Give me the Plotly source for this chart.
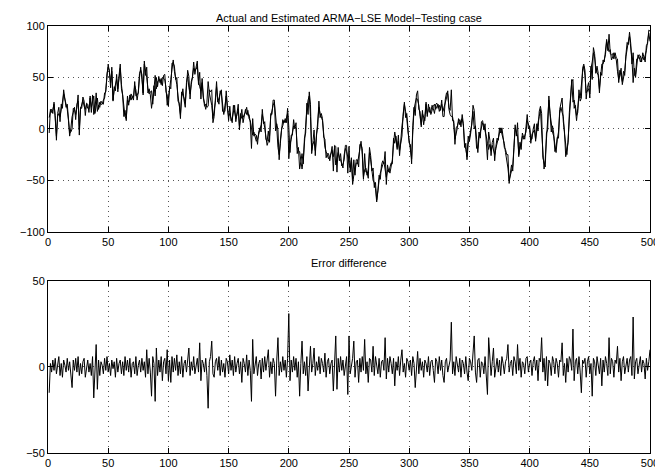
import plotly.graph_objects as go

# x index (samples 1..500)
x_index = list(range(1, 501))

# Actual series
actual = [
    11, 17, 19, 15, 26, 8, -7, 12, 15, 12,
    22, 26, 34, 28, 24, 19, 8, -7, 1, 12,
    16, 21, 9, 24, 27, -1, 19, 24, 28, 22,
    19, 24, 20, 19, 30, 21, 27, 32, 15, 22,
    30, 19, 26, 24, 24, 28, 30, 38, 48, 63,
    55, 45, 56, 28, 38, 43, 48, 39, 50, 59,
    43, 30, 17, 12, 10, 28, 26, 28, 34, 30,
    28, 46, 32, 33, 35, 50, 60, 48, 35, 63,
    58, 50, 39, 34, 36, 37, 24, 40, 52, 39,
    46, 47, 48, 43, 50, 49, 48, 40, 23, 30,
    37, 48, 58, 67, 56, 50, 43, 32, 22, 14,
    30, 39, 28, 21, 45, 52, 40, 34, 43, 52,
    59, 57, 58, 61, 46, 41, 37, 45, 30, 25,
    19, 26, 46, 35, 30, 23, 10, 18, 26, 41,
    28, 24, 37, 34, 20, 14, 23, 32, 20, 12,
    15, 10, 6, 23, 17, 10, 14, 19, 3, 12,
    19, 6, 12, 19, 14, 18, 10, 8, 1, -6,
    -3, -8, -12, -10, -5, -3, 4, 14, 8, 1,
    -8, -16, -12, -7, 12, 18, 23, 26, 15, 1,
    -18, -25, -14, 0, 3, 8, 6, 12, 15, -29,
    -15, -10, -3, 3, 2, 1, -18, -21, -22, -34,
    -39, -30, -12, 1, 19, 28, 32, 12, -21, -15,
    -12, -21, -8, 4, 21, 15, 10, 8, -5, -18,
    -22, -27, -29, -27, -24, -21, -27, -19, -35, -29,
    -23, -28, -30, -34, -38, -25, -19, -22, -27, -35,
    -38, -30, -54, -45, -39, -33, -34, -28, -20, -12,
    -25, -47, -40, -38, -45, -39, -23, -30, -38, -50,
    -52, -58, -71, -56, -50, -43, -38, -35, -32, -39,
    -47, -40, -39, -43, -35, -30, -14, -3, -10, -18,
    -12, -21, -14, -7, 15, 24, 17, 10, -3, -12,
    -19, -29, -3, 19, 25, 30, 28, 23, 12, 4,
    15, 10, 8, 24, 15, 18, 21, 14, 19, 22,
    24, 19, 22, 24, 17, 20, 24, 17, 21, 26,
    30, 37, 19, 14, 12, 12, 5, -10, -5, 1,
    10, 4, 8, 10, 3, -14, -20, -27, -7, -12,
    -5, 6, 17, 0, 3, -10, -23, -8, -3, 4,
    6, 3, -1, -7, -14, -20, -15, -21, -16, -20,
    -25, -19, -14, -8, -3, 1, -5, -10, -14, -23,
    -30, -38, -50, -45, -39, -36, -18, 1, -3, -7,
    -25, -18, -14, -7, -10, -6, -3, 8, 3, 1,
    -14, -5, -3, -1, -10, 1, 6, 12, 19, -2,
    -25, -39, -29, -10, 10, 28, 15, 2, -3, -7,
    -18, -23, -10, -3, 15, 21, 16, 12, -5, -18,
    -25, -10, 10, 30, 48, 26, 28, 20, 8, 20,
    32, 30, 45, 55, 61, 52, 35, 37, 39, 34,
    59, 65, 74, 70, 59, 55, 52, 39, 50, 63,
    63, 68, 72, 85, 81, 75, 77, 67, 70, 74,
    70, 67, 56, 48, 52, 59, 43, 50, 56, 70,
    79, 85, 90, 77, 68, 45, 59, 50, 63, 72,
    70, 65, 68, 70, 67, 72, 76, 85, 93, 85,
]

# Error difference series
error = [
    -15, 2, -3, 4, -2, 5, -4, 3, 6, -5, 2, -6, 4, 1, -3, 5, -2, 3, -4, -12,
    4, -2, 5, -3, 6, -5, 2, -4, 3, 5, -6, 1, 4, -3, 2, -5, 6, -18, 3, 13,
    -13, 4, -5, 3, 1, -4, 5, -2, 6, -3, 2, -5, 4, -1, 3, -6, 5, -3, 2, 4,
    -4, 3, -5, 6, -2, 4, -3, 5, -6, 2, 3, -4, 6, -5, 1, 4, -3, 5, -2, 3,
    -6, 10, -4, 5, -3, -17, 6, 2, -20, 11, -5, 4, -3, 6, -8, 3, 5, -4, 10, -8,
    4, -9, 6, -3, 5, -2, 7, -5, 3, -4, 6, -6, 2, 4, -3, 5, 11, -5, 3, -2,
    6, -4, 2, 5, -3, 14, -8, 4, 2, -3, 5, -5, -24, 3, 6, 15, -4, -6, 3, 5,
    -2, 6, -5, 4, -3, 2, -6, 5, 3, -4, 7, -2, 4, -5, 6, -3, 2, 5, -4, 3,
    -9, 5, 2, -3, 7, -5, 4, -2, -20, 16, -4, 3, 6, -5, 2, 4, -7, 5, -3, 6,
    -2, 4, 10, -6, 3, -4, 5, 2, -17, 4, 17, -5, 3, -3, 6, -2, 4, -6, 5, 31,
    -8, 4, -3, 6, -2, 5, -6, 3, -17, 2, 15, -4, 3, -5, 6, -14, 4, 12, -3, 2,
    11, -5, 3, -2, 6, -4, 5, 2, -3, 8, -6, 3, 5, -4, 2, 4, -14, 3, 18, -13,
    5, -3, 6, -2, 4, -5, 3, 6, -16, 18, -4, 2, 5, 15, -6, 3, 4, -9, 5, -3,
    6, -2, 16, -4, 3, -9, 5, 4, -3, 12, -5, 6, 2, -4, 5, -6, 3, 4, -2, 17,
    -7, 5, -3, 6, 2, -4, 5, -11, 3, -2, 6, -5, 4, 10, -3, 2, -6, 5, 3, -2,
    4, -5, 6, 2, -12, 3, 9, -4, 5, -2, 3, -6, 4, 2, -3, 6, -5, 3, 4, -2,
    -9, 5, 3, -4, 6, -2, 4, -5, -9, 3, 5, -3, 2, 4, 26, -4, 3, -5, 6, 2,
    -3, 5, -6, 4, 2, -4, 6, -3, -8, 5, 3, -2, 6, 18, -3, -9, 4, 5, -6, 3,
    2, -4, 6, -3, -16, 17, 4, -5, 3, 11, -6, 2, 5, -3, 4, -5, 6, 2, -4, 3,
    5, 13, -3, 2, 4, -5, 6, 3, -4, 13, -2, 5, -6, 3, 2, -4, 5, 6, -3, 2,
    4, -5, 3, 6, -2, 4, -8, 5, 3, 17, -3, 5, -8, 6, -11, 4, 2, -5, 6, 3,
    -4, 5, 2, -6, 4, 3, 14, -5, 2, -9, 5, -3, 6, 4, -2, 22, -8, 3, 5, -4,
    6, -3, -15, 4, 2, 5, -6, 3, 6, -4, 2, -17, 5, 3, -5, 6, 2, -4, 5, -11,
    4, -3, 6, 2, -5, 17, -4, 5, 3, -6, 4, 2, 12, -3, 5, -8, 3, 6, -4, 2,
    5, -3, 4, 6, -5, 29, -7, 3, 5, -4, 2, 6, -3, 4, 2, -7, 5, -2, 3, 10,
]

# Estimated series: the error difference is estimated minus actual
estimated = [a + e for a, e in zip(actual, error)]

x_ticks = [0, 50, 100, 150, 200, 250, 300, 350, 400, 450, 500]
top_yticks = [-100, -50, 0, 50, 100]
bot_yticks = [-50, 0, 50]

title_top = "Actual and Estimated ARMA\u2212LSE Model\u2212Testing case"
title_bot = "Error difference"

FONT = "Liberation Sans, Arial, Helvetica, sans-serif"

fig = go.Figure()
line_style = dict(color="black", width=1)
fig.add_trace(go.Scatter(x=x_index, y=actual, mode="lines", line=line_style,
                         xaxis="x", yaxis="y", showlegend=False))
fig.add_trace(go.Scatter(x=x_index, y=estimated, mode="lines", line=line_style,
                         xaxis="x", yaxis="y", showlegend=False))
fig.add_trace(go.Scatter(x=x_index, y=error, mode="lines", line=line_style,
                         xaxis="x2", yaxis="y2", showlegend=False))

axis_common = dict(
    showline=True, linecolor="black", linewidth=1, mirror="ticks",
    ticks="inside", ticklen=5, tickcolor="black",
    showgrid=True, gridcolor="#555", griddash="1px,4px", gridwidth=1,
    zeroline=False, tickfont=dict(family=FONT, size=11, color="black"),
)

H = 473
mt, mb = 16, 13
ph = H - mt - mb
top_px = (16, 230)
bot_px = (281, 460)
top_dom = [(H - mb - top_px[1]) / ph, 1.0]
bot_dom = [0.0, (H - mb - bot_px[0]) / ph]

fig.update_layout(
    width=663, height=473,
    margin=dict(l=40, r=12, t=mt, b=mb),
    paper_bgcolor="white", plot_bgcolor="white",
    font=dict(family=FONT, size=11, color="black"),
    xaxis=dict(range=[0, 500], tickvals=x_ticks, domain=[0, 1], anchor="y", **axis_common),
    yaxis=dict(range=[-100, 100], tickvals=top_yticks, domain=top_dom, anchor="x", **axis_common),
    xaxis2=dict(range=[0, 500], tickvals=x_ticks, domain=[0, 1], anchor="y2", **axis_common),
    yaxis2=dict(range=[-50, 50], tickvals=bot_yticks, domain=bot_dom, anchor="x2", **axis_common),
    annotations=[
        dict(text=title_top, x=0.5, y=top_dom[1], xref="paper", yref="paper",
             xanchor="center", yanchor="bottom", yshift=0, showarrow=False,
             font=dict(family=FONT, size=11, color="black")),
        dict(text=title_bot, x=0.5, y=bot_dom[1], xref="paper", yref="paper",
             xanchor="center", yanchor="bottom", yshift=10, showarrow=False,
             font=dict(family=FONT, size=11, color="black")),
    ],
)

fig.write_html("out.html")
